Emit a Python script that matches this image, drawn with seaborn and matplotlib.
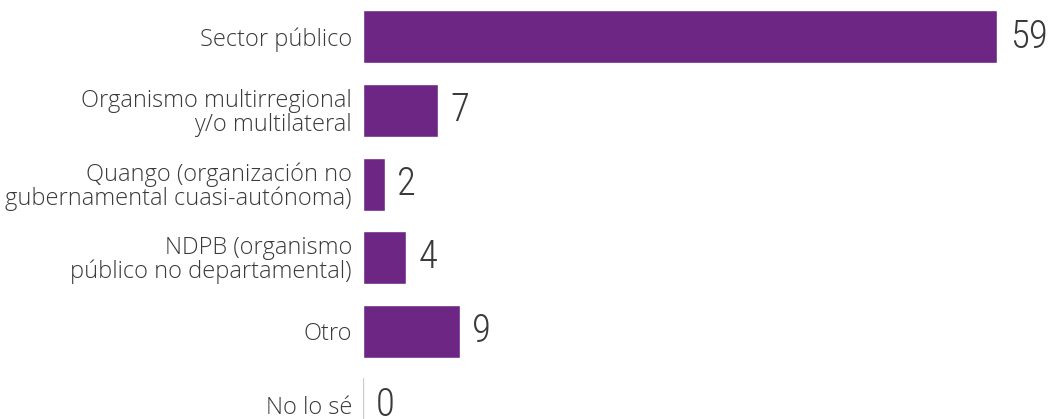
import matplotlib
matplotlib.use('Agg')
import matplotlib.pyplot as plt
import seaborn as sns
import pandas as pd

# datos del gráfico
categories = [
    'Sector público',
    'Organismo multirregional\ny/o multilateral',
    'Quango (organización no\ngubernamental cuasi-autónoma)',
    'NDPB (organismo\npúblico no departamental)',
    'Otro',
    'No lo sé',
]
values = [59, 7, 2, 4, 9, 0]

bar_color = '#6E2685'
text_color = '#3a3a3a'

sns.set_theme(style='white')
plt.rcParams['font.family'] = ['Open Sans', 'DejaVu Sans']

df = pd.DataFrame({'categoria': categories, 'valor': values})

fig = plt.figure(figsize=(10.48, 4.19), dpi=100)
ax = fig.add_axes([363 / 1048, 0, 1 - 363 / 1048, 1])

sns.barplot(data=df, x='valor', y='categoria', orient='h', color=bar_color,
            saturation=1, width=0.72, ax=ax)

ax.set_xlim(0, 685 / 10.75)
ax.set_ylim(5.19, -0.5)
ax.set_xlabel('')
ax.set_ylabel('')
ax.set_xticks([])
ax.tick_params(axis='y', length=0, pad=8, labelsize=17, labelcolor=text_color)
plt.setp(ax.get_yticklabels(), linespacing=0.95, fontweight='light')
for s in ax.spines.values():
    s.set_visible(False)

# linea fina para barras con valor cero
for i, v in enumerate(values):
    if v == 0:
        ax.plot([0, 0], [i - 0.36, i + 0.36], color='#cccccc', lw=1)

# etiquetas de valor
for i, v in enumerate(values):
    ax.annotate(str(v), xy=(v, i), xytext=(9, 0), textcoords='offset points',
                ha='left', va='center', fontsize=28, color=text_color,
                family=['Roboto Condensed', 'DejaVu Sans Condensed', 'Roboto'],
                fontweight='light')

fig.savefig('out.png', dpi=100)
